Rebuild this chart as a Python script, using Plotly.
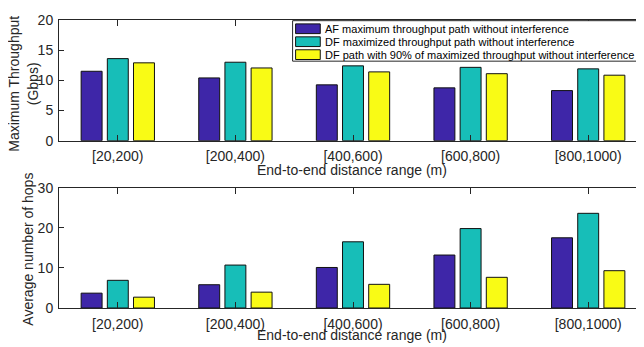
import plotly.graph_objects as go

categories = ["[20,200)", "[200,400)", "[400,600)", "[600,800)", "[800,1000)"]
series_names = [
    "AF maximum throughput path without interference",
    "DF maximized throughput path without interference",
    "DF path with 90% of maximized throughput without interference",
]
throughput_af = [11.5, 10.4, 9.25, 8.75, 8.3]
throughput_df = [13.6, 13.0, 12.4, 12.15, 11.9]
throughput_df90 = [12.9, 12.05, 11.4, 11.1, 10.85]
hops_af = [3.7, 5.8, 10.1, 13.2, 17.5]
hops_df = [6.9, 10.7, 16.5, 19.8, 23.6]
hops_df90 = [2.7, 3.95, 5.9, 7.65, 9.3]
top_yticks = [0, 5, 10, 15, 20]
bottom_yticks = [0, 10, 20, 30]

colors = ["#3E26A8", "#17BEB8", "#F9FB15"]
FONT = "Liberation Sans, Arial, Helvetica, sans-serif"
AXC = "#262626"

# page body adds an 8px offset; the reference's right frame lies just beyond the visible edge
OFF = 8
W, H = 644, 347
ML, MR, MT, MB = 51, 4, 4, 47
PW, PH = W - ML - MR, H - MT - MB


def px(x):
    return (x - OFF - ML) / PW


def py(y):
    return (H - MB - (y - OFF)) / PH


def clamp(v):
    return min(1.0, max(0.0, v))


xpos = list(range(1, len(categories) + 1))

fig = go.Figure()
top_series = [throughput_af, throughput_df, throughput_df90]
bot_series = [hops_af, hops_df, hops_df90]
for name, vals, c in zip(series_names, top_series, colors):
    fig.add_trace(go.Bar(x=xpos, y=vals, name=name, marker=dict(color=c, line=dict(color="#111111", width=1)),
                         xaxis="x", yaxis="y", showlegend=False))
for name, vals, c in zip(series_names, bot_series, colors):
    fig.add_trace(go.Bar(x=xpos, y=vals, name=name, marker=dict(color=c, line=dict(color="#111111", width=1)),
                         xaxis="x2", yaxis="y2", showlegend=False))

top_dom = [clamp(py(136)), clamp(py(12))]
bot_dom = [clamp(py(308.3)), clamp(py(184.3))]

xcommon = dict(range=[0.5, 5.5], tickmode="array", tickvals=xpos, ticktext=categories, ticks="inside", ticklen=6,
               tickcolor=AXC, showline=True, linecolor=AXC, linewidth=1, mirror="ticks", showgrid=False,
               zeroline=False, tickfont=dict(family=FONT, size=14, color=AXC), ticklabelstandoff=3)
ycommon = dict(ticks="inside", ticklen=5, tickcolor=AXC, showline=True, linecolor=AXC, linewidth=1,
               mirror="ticks", showgrid=False, zeroline=False, tickfont=dict(family=FONT, size=14, color=AXC),
               ticklabelstandoff=2)

fig.update_layout(
    width=W, height=H, margin=dict(l=ML, r=MR, t=MT, b=MB),
    paper_bgcolor="white", plot_bgcolor="white",
    barmode="group", bargap=0.332, bargroupgap=0.2,
    xaxis=dict(domain=[0, 1], anchor="y", **xcommon),
    yaxis=dict(domain=top_dom, anchor="x", range=[0, 20], tickvals=top_yticks, **ycommon),
    xaxis2=dict(domain=[0, 1], anchor="y2", **xcommon),
    yaxis2=dict(domain=bot_dom, anchor="x2", range=[0, 30], tickvals=bottom_yticks, **ycommon),
    showlegend=False,
)

shapes = []
# legend box
lx0, lx1, ly0, ly1 = 293, 642.7, 12.7, 54.3
shapes.append(dict(type="rect", xref="paper", yref="paper", x0=px(lx0), x1=px(lx1), y0=py(ly1), y1=py(ly0),
                   line=dict(color=AXC, width=1), fillcolor="white", layer="above"))
row_y = [21, 34.3, 47.6]
annotations = []
for name, c, ry in zip(series_names, colors, row_y):
    shapes.append(dict(type="rect", xref="paper", yref="paper", x0=px(296), x1=px(320.7), y0=py(ry + 5),
                       y1=py(ry - 5), line=dict(color="#111111", width=1), fillcolor=c, layer="above"))
    annotations.append(dict(xref="paper", yref="paper", x=px(323), y=py(ry), text=name, showarrow=False,
                            xanchor="left", yanchor="middle", font=dict(family=FONT, size=11, color="#000000")))

# axis titles
annotations.append(dict(xref="paper", yref="paper", x=px(352), y=py(166), text="End-to-end distance range (m)",
                        showarrow=False, xanchor="center", yanchor="middle",
                        font=dict(family=FONT, size=14, color=AXC)))
annotations.append(dict(xref="paper", yref="paper", x=px(352), y=py(336), text="End-to-end distance range (m)",
                        showarrow=False, xanchor="center", yanchor="middle",
                        font=dict(family=FONT, size=14, color=AXC)))
annotations.append(dict(xref="paper", yref="paper", x=px(23.5), y=py(78), text="Maximum Throughput<br>(Gbps)",
                        showarrow=False, xanchor="center", yanchor="middle", textangle=-90,
                        font=dict(family=FONT, size=14, color=AXC)))
annotations.append(dict(xref="paper", yref="paper", x=px(28), y=py(248), text="Average number of hops",
                        showarrow=False, xanchor="center", yanchor="middle", textangle=-90,
                        font=dict(family=FONT, size=14, color=AXC)))

fig.update_layout(shapes=shapes, annotations=annotations)
fig.write_html("out.html")
